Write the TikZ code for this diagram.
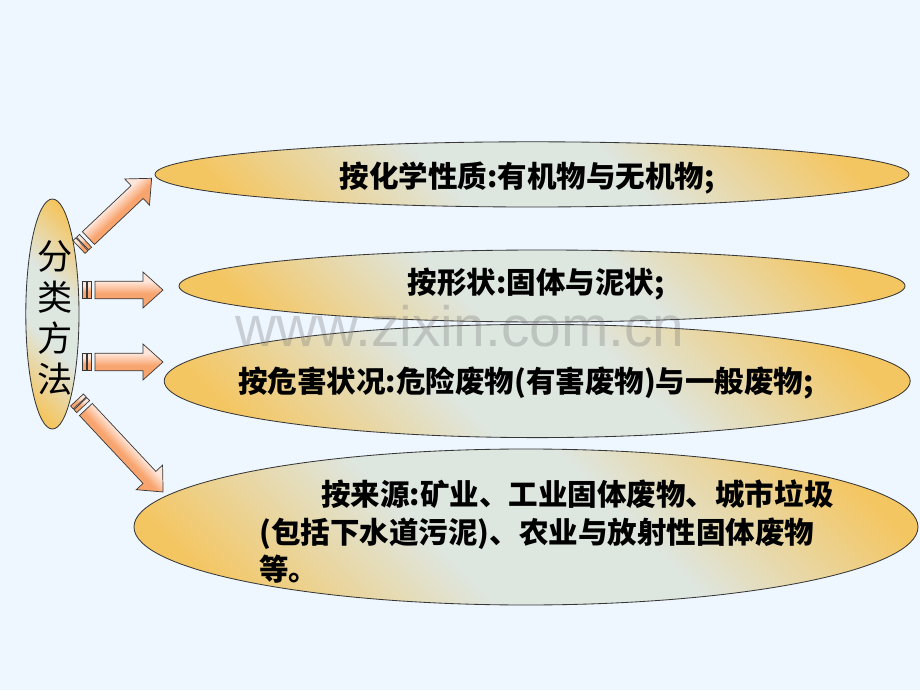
\documentclass[tikz,border=0pt]{standalone}
\usepackage{fontspec}
\setmainfont{Noto Sans CJK SC}
\newfontfamily\wmfont{Liberation Sans}
\usetikzlibrary{positioning,shapes.geometric,calc}

\definecolor{slidebg}{RGB}{238,246,255}
\definecolor{ellgold}{RGB}{244,198,98}
\definecolor{ellpale}{RGB}{222,230,224}
\definecolor{arrpale}{RGB}{255,230,218}
\definecolor{arrdeep}{RGB}{248,164,110}
\definecolor{edgegray}{RGB}{55,55,55}

\pgfdeclarehorizontalshading{ellshade}{100bp}{color(0bp)=(ellgold); color(22bp)=(ellgold); color(42bp)=(ellpale); color(58bp)=(ellpale); color(78bp)=(ellgold); color(100bp)=(ellgold)}
\pgfdeclareverticalshading{arrowshade}{100bp}{color(0bp)=(arrdeep); color(45bp)=(arrdeep); color(62bp)=(arrpale); color(100bp)=(arrpale)}

\tikzset{
  catell/.style={ellipse, draw=edgegray, line width=0.6pt, shading=ellshade, shading angle=45, inner sep=0pt},
  cattext/.style={font=\bfseries\fontsize{21}{26.5}\selectfont, text=black, inner sep=0pt},
  arrowbody/.style={draw=edgegray, line width=0.5pt, shading=arrowshade, line join=miter}
}

% striped block arrow: #1 start, #2 angle, #3 length
\newcommand\stripearrow[3]{%
  \begin{scope}[transform canvas={shift={(#1)}, rotate=#2}]
    \draw[arrowbody] (0,-0.22) -- (0.1,-0.22) -- (0.1,0.22) -- (0,0.22) -- cycle;
    \draw[arrowbody] (0.125,-0.22) -- (0.225,-0.22) -- (0.225,0.22) -- (0.125,0.22) -- cycle;
    \draw[arrowbody] (0.325,-0.22) -- (#3-0.5,-0.22) -- (#3-0.5,-0.45) -- (#3,0)
      -- (#3-0.5,0.45) -- (#3-0.5,0.22) -- (0.325,0.22) -- cycle;
  \end{scope}}

\begin{document}
\begin{tikzpicture}
    % slide background
    \fill[slidebg] (0,0) rectangle (23,17.25);
    \useasboundingbox (0,0) rectangle (23,17.25);

    % left ellipse
    \node[catell, minimum width=1.33cm, minimum height=5.75cm] (cls) at (1.31,9.4) {};
    \node[font=\fontsize{25}{29}\selectfont, align=center, inner sep=0pt] (clstext) at (1.38,9.3) {分\\类\\方\\法};

    % category ellipses
    \node[catell, minimum width=18.85cm, minimum height=1.63cm] (chem) at (13.3,12.89) {};
    \node[catell, minimum width=18.15cm, minimum height=1.8cm] (form) at (13.55,10.1) {};
    \node[catell, minimum width=18.65cm, minimum height=2.83cm] (hazard) at (13.43,7.725) {};
    \node[catell, minimum width=19.6cm, minimum height=3.9cm] (source) at (13.15,4.075) {};

    % watermark
    \node[font=\wmfont\fontsize{40.5}{40.5}\selectfont, text=black!55, text opacity=0.3] (mark) at (11.5,9.1) {www.zixin.com.cn};

    % texts
    \node[cattext] (t1) at (13.175,12.8) {按化学性质:有机物与无机物;};
    \node[cattext] (t2) at (13.4,10.15) {按形状:固体与泥状;};
    \node[cattext] (t3) at (13.15,7.675) {按危害状况:危险废物(有害废物)与一般废物;};
    \node[cattext, align=left, text width=15.2cm, anchor=west] (t4) at (6.475,3.96)
      {\hspace*{2.1em}按来源:矿业、工业固体废物、城市垃圾\\(包括下水道污泥)、农业与放射性固体废物\\等。};

    % arrows from cls
    \coordinate (a1) at (1.975,11.075);
    \coordinate (a2) at (2.05,10.0);
    \coordinate (a3) at (2.05,8.2);
    \coordinate (a4) at (1.925,7.25);
    \stripearrow{a1}{43.4}{2.5}
    \stripearrow{a2}{0}{2.025}
    \stripearrow{a3}{0}{2.025}
    \stripearrow{a4}{-46.9}{3.15}
\end{tikzpicture}
\end{document}
